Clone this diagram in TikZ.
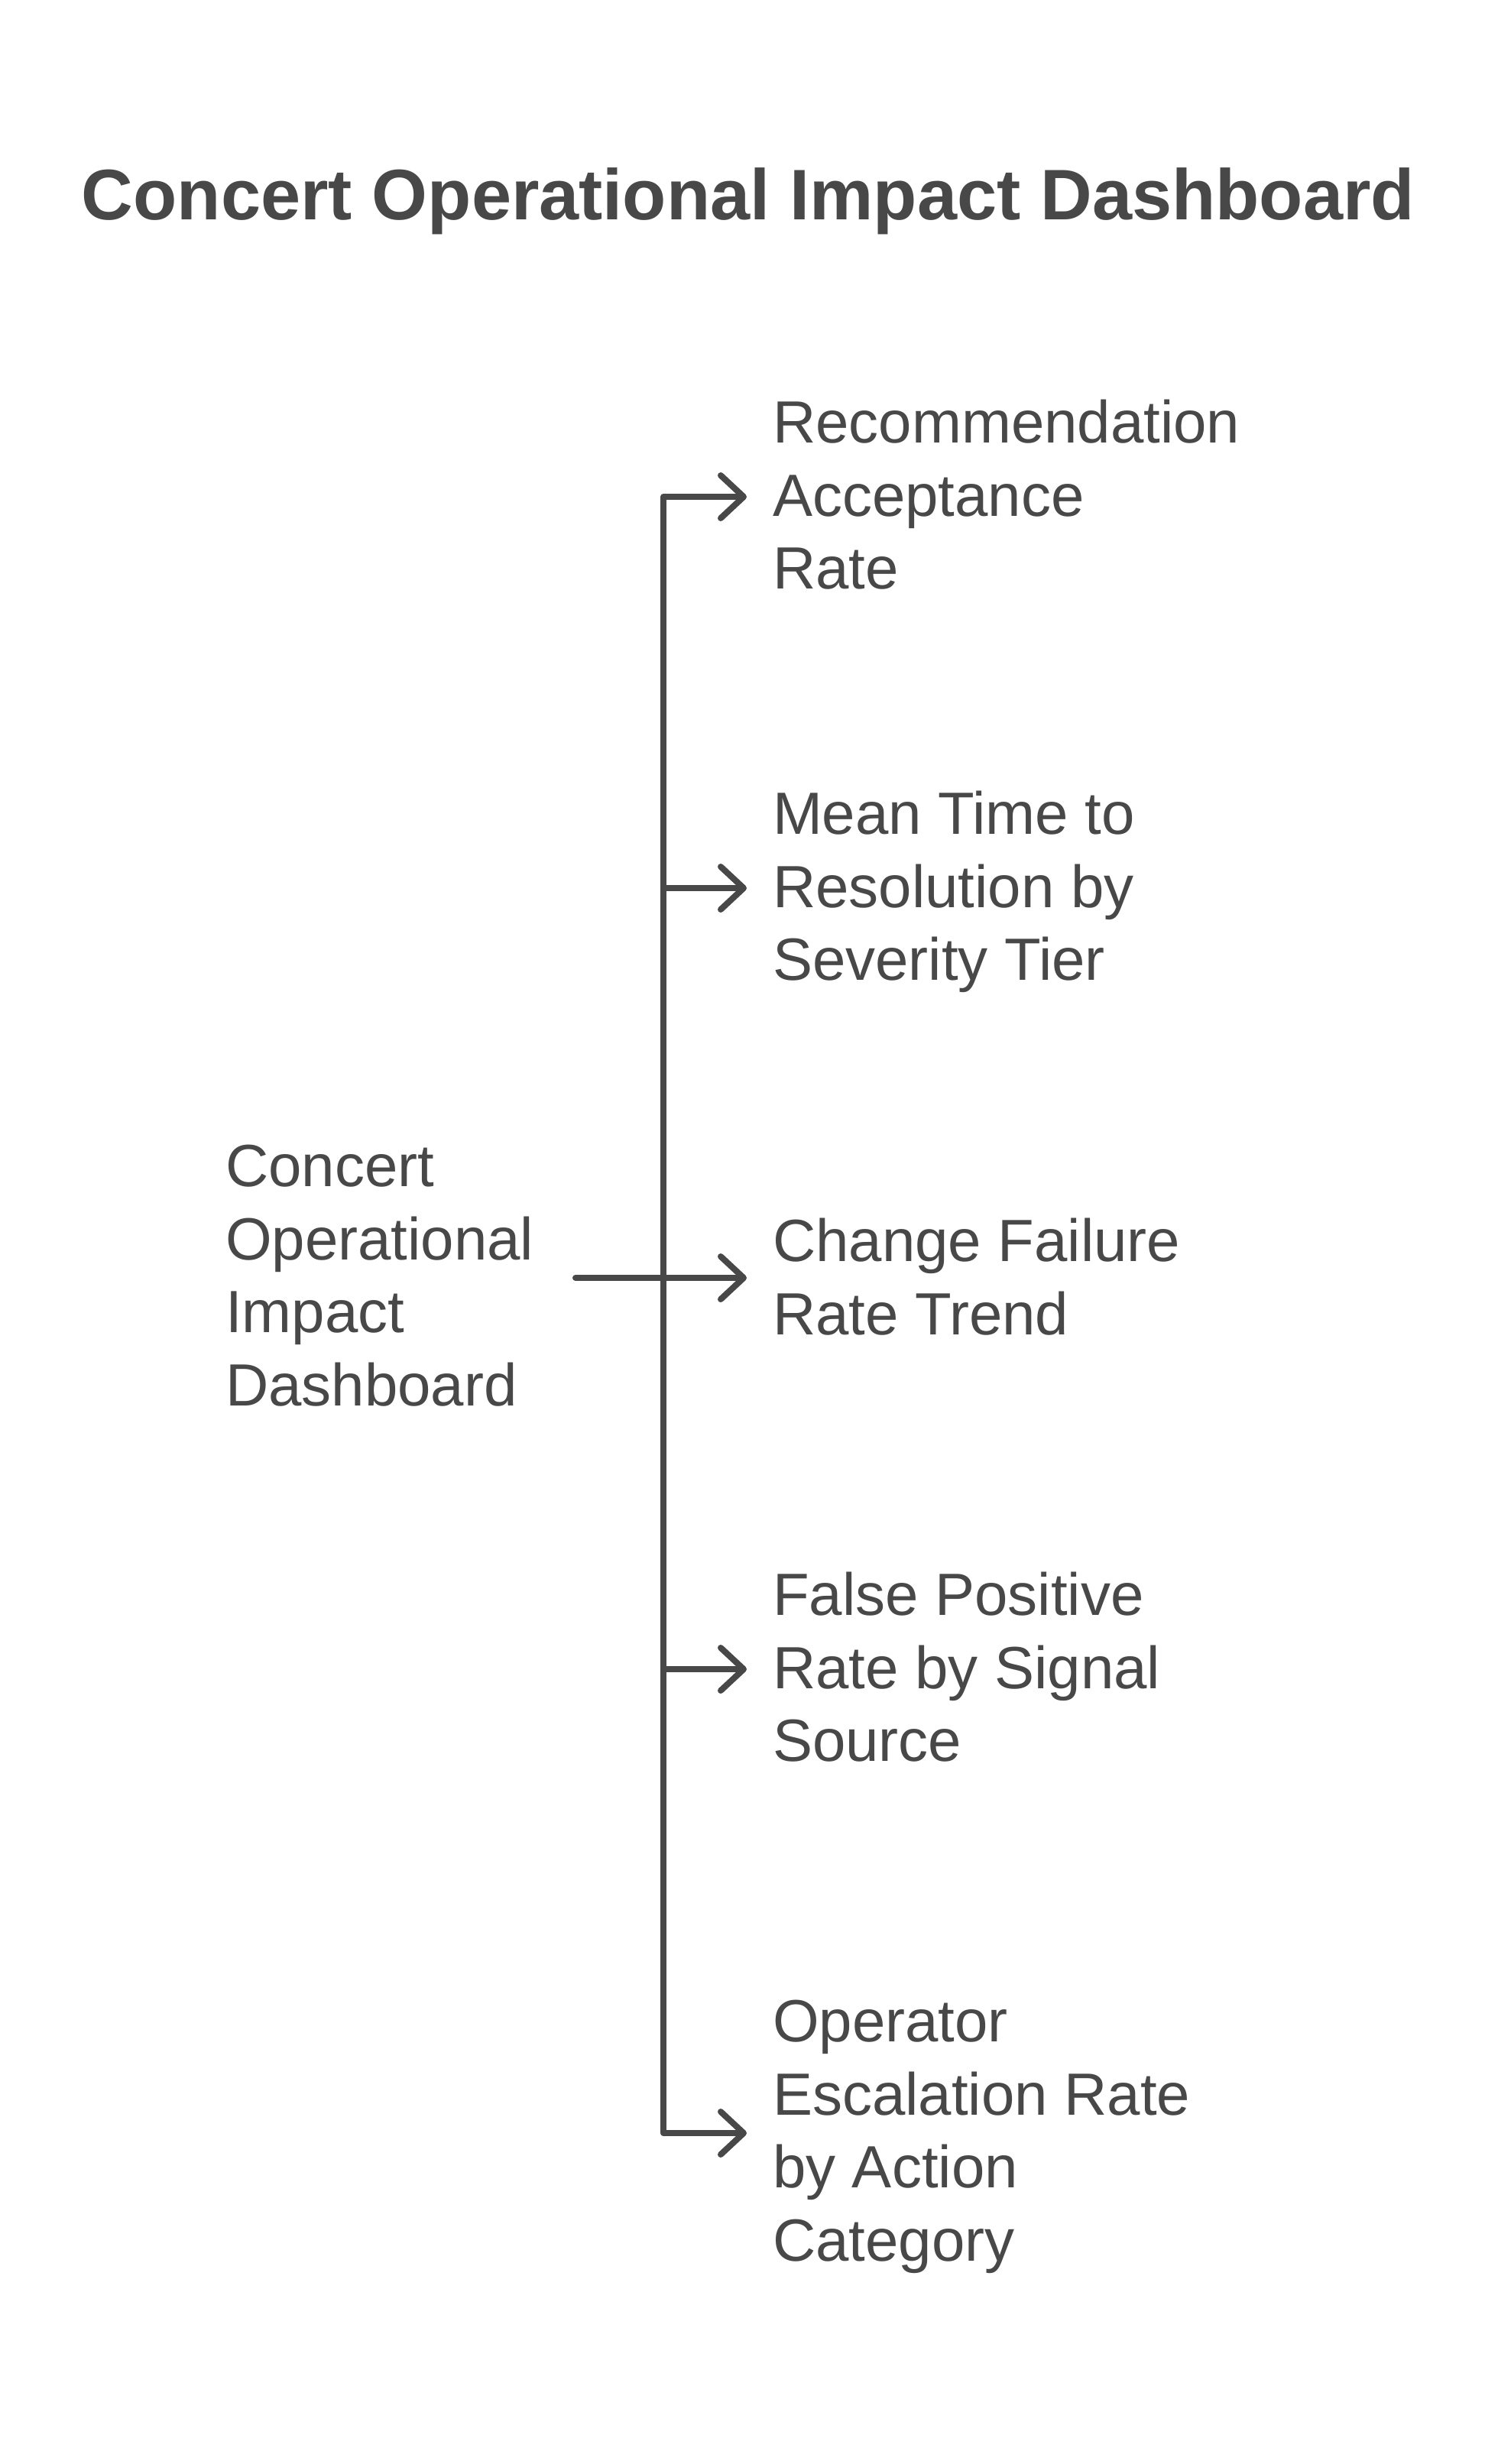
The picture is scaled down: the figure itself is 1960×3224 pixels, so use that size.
\documentclass[tikz,border=0pt]{standalone}
\usepackage{fontspec}
\setmainfont{Liberation Sans}
\usepackage{xcolor}
\usetikzlibrary{arrows.meta}
\definecolor{inkgray}{HTML}{484848}

\begin{document}
\begin{tikzpicture}[x=1pt, y=-1pt, line width=8pt,
  metric/.style={anchor=north west, inner sep=0pt, align=left, text=inkgray,
    font=\fontsize{78pt}{95.7pt}\selectfont},
  barb/.tip={Straight Barb[length=30pt, width=56pt, line cap=round, line join=round]},
  link/.style={draw=inkgray, line cap=round, line join=round, -barb}]
\useasboundingbox (0,0) rectangle (1960,3224);

\node[anchor=base, inner sep=0pt, text=inkgray,
  font=\bfseries\fontsize{93.7pt}{110pt}\selectfont] (title) at (979,287)
  {Concert Operational Impact Dashboard};

\node[metric] (dash) at (291,1494) {Concert\\Operational\\Impact\\Dashboard};
\node[metric] (m1) at (1007,519) {Recommendation\\Acceptance\\Rate};
\node[metric] (m2) at (1007,1031) {Mean Time to\\Resolution by\\Severity Tier};
\node[metric] (m3) at (1007,1590) {Change Failure\\Rate Trend};
\node[metric] (m4) at (1007,2053) {False Positive\\Rate by Signal\\Source};
\node[metric] (m5) at (1007,2613) {Operator\\Escalation Rate\\by Action\\Category};

% trunk and branches
\coordinate (src) at (753,1672);
\foreach \i/\y in {1/650, 2/1162, 3/1672, 4/2184, 5/2791} {
  \coordinate (j\i) at (868,\y);
  \coordinate (t\i) at (977,\y);
}
\draw[link] (src) -- (t3);
\draw[link, barb-barb] (t1) -- (j1) -- (j5) -- (t5);
\draw[link] (j2) -- (t2);
\draw[link] (j4) -- (t4);
\end{tikzpicture}
\end{document}
